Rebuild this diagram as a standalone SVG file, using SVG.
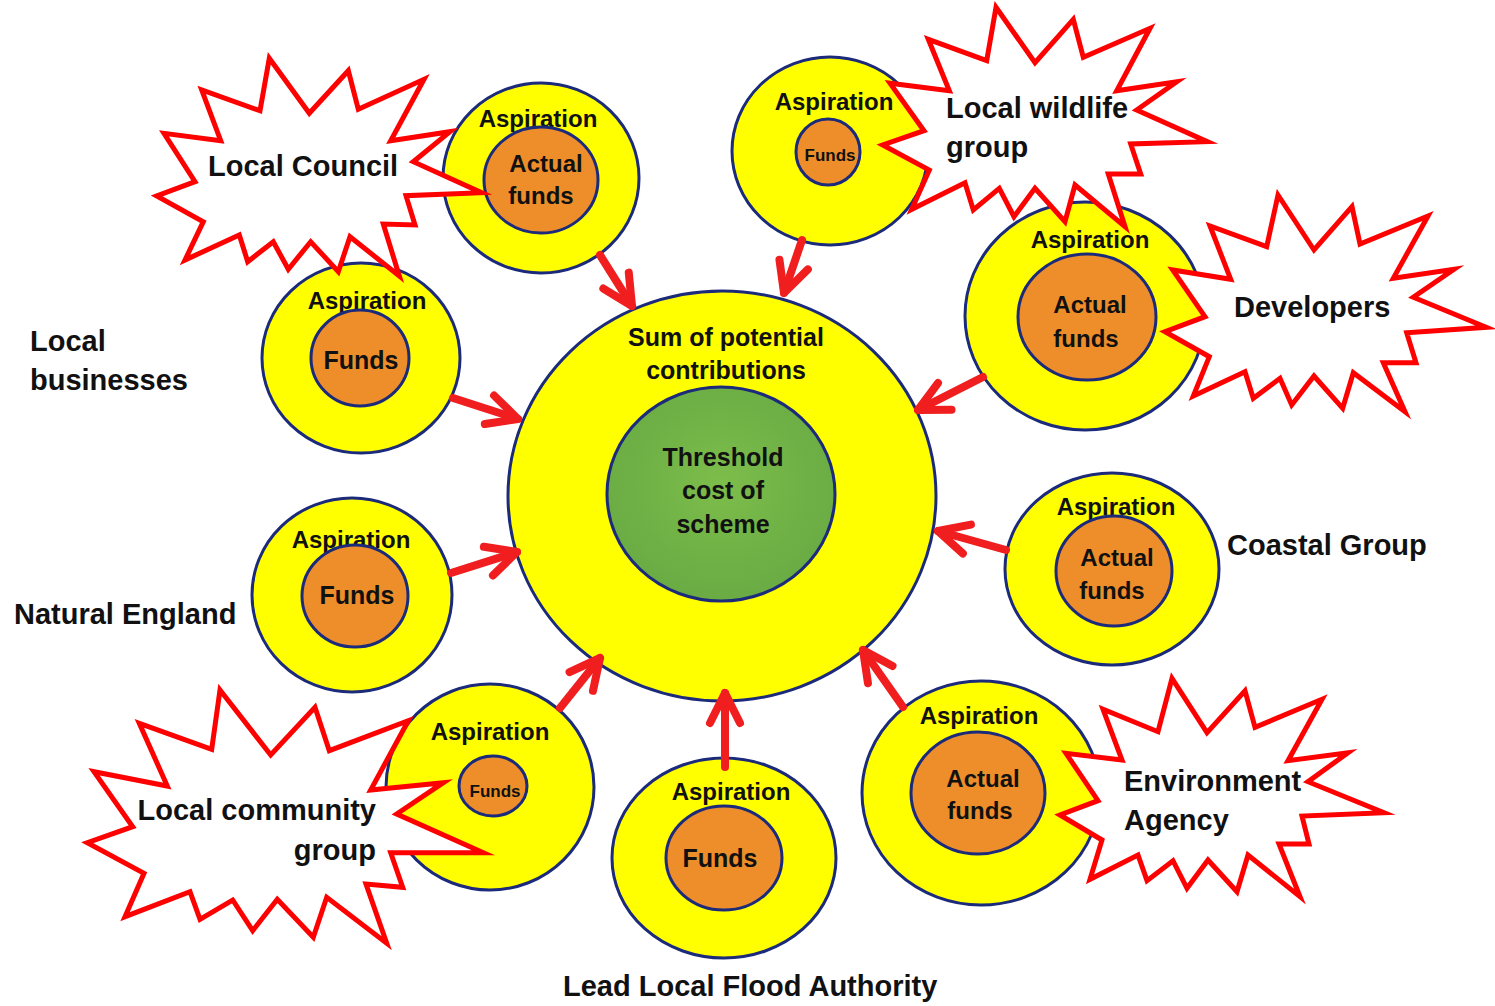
<svg xmlns="http://www.w3.org/2000/svg" width="1495" height="1006" viewBox="0 0 1495 1006">
<style>
text{font-family:"Liberation Sans",Arial,sans-serif;font-weight:bold;fill:#111111}
.outer{fill:#FFFF00;stroke:#1B2A7A;stroke-width:3}
.inner{fill:#EE8E2A;stroke:#1B2A7A;stroke-width:3}
.green{fill:url(#g);stroke:#1B2A7A;stroke-width:3}
.burst{fill:#FFFFFF;stroke:#FF0000;stroke-width:5;stroke-linejoin:miter;stroke-miterlimit:10}
.asp{font-size:24px;text-anchor:middle}
.fund{font-size:24px;text-anchor:middle}
.small{font-size:17px;text-anchor:middle}
.ctr{font-size:25px;text-anchor:middle}
.lbl{font-size:29px}
.arrow{fill:none;stroke:#F01E1E;stroke-width:8;stroke-linecap:round}
</style>
<defs>
<radialGradient id="g" cx="50%" cy="45%" r="60%">
<stop offset="0" stop-color="#7CBD4B"/>
<stop offset="1" stop-color="#68A943"/>
</radialGradient>
<marker id="ah" markerUnits="userSpaceOnUse" orient="auto" markerWidth="80" markerHeight="80" refX="0" refY="0" overflow="visible">
<path d="M-30,-15 L0,0 L-30,15" fill="none" stroke="#F01E1E" stroke-width="8" stroke-linecap="round" stroke-linejoin="round"/>
</marker>
</defs>
<rect width="1495" height="1006" fill="#FFFFFF"/>

<g id="center-node">
<ellipse class="outer" cx="722" cy="496" rx="214" ry="205"/>
<text class="ctr" x="726" y="346">Sum of potential</text>
<text class="ctr" x="726" y="379">contributions</text>
<ellipse class="green" cx="721" cy="494" rx="114" ry="107"/>
<text class="ctr" x="723" y="466">Threshold</text>
<text class="ctr" x="723" y="499">cost of</text>
<text class="ctr" x="723" y="533">scheme</text>
</g>

<g id="node-local-council">
<ellipse class="outer" cx="541" cy="178" rx="98" ry="95"/>
<text class="asp" x="538" y="127">Aspiration</text>
<ellipse class="inner" cx="541" cy="180" rx="57" ry="53"/>
<text class="fund" x="546" y="172">Actual</text>
<text class="fund" x="541" y="204">funds</text>
</g>

<g id="node-local-wildlife">
<ellipse class="outer" cx="830" cy="151" rx="98" ry="94"/>
<text class="asp" x="834" y="110">Aspiration</text>
<ellipse class="inner" cx="828" cy="152" rx="32" ry="33"/>
<text class="small" x="830" y="161">Funds</text>
</g>

<g id="node-developers">
<ellipse class="outer" cx="1085" cy="316" rx="120" ry="114"/>
<text class="asp" x="1090" y="248">Aspiration</text>
<ellipse class="inner" cx="1087" cy="317" rx="69" ry="63"/>
<text class="fund" x="1090" y="313">Actual</text>
<text class="fund" x="1086" y="347">funds</text>
</g>

<g id="node-local-businesses">
<ellipse class="outer" cx="361" cy="358" rx="99" ry="95"/>
<text class="asp" x="367" y="309">Aspiration</text>
<ellipse class="inner" cx="360" cy="358" rx="49" ry="48"/>
<text class="fund" x="361" y="369" style="font-size:25px">Funds</text>
</g>

<g id="node-natural-england">
<ellipse class="outer" cx="352" cy="595" rx="100" ry="97"/>
<text class="asp" x="351" y="548">Aspiration</text>
<ellipse class="inner" cx="355" cy="596" rx="53" ry="51"/>
<text class="fund" x="357" y="604" style="font-size:25px">Funds</text>
</g>

<g id="node-coastal-group">
<ellipse class="outer" cx="1112" cy="569" rx="107" ry="96"/>
<text class="asp" x="1116" y="515">Aspiration</text>
<ellipse class="inner" cx="1114" cy="571" rx="58" ry="55"/>
<text class="fund" x="1117" y="566">Actual</text>
<text class="fund" x="1112" y="599">funds</text>
</g>

<g id="node-local-community">
<ellipse class="outer" cx="490" cy="787" rx="104" ry="103"/>
<text class="asp" x="490" y="740">Aspiration</text>
<ellipse class="inner" cx="493" cy="786" rx="34" ry="30"/>
<text class="small" x="495" y="797">Funds</text>
</g>

<g id="node-llfa">
<ellipse class="outer" cx="724" cy="858" rx="112" ry="100"/>
<text class="asp" x="731" y="800">Aspiration</text>
<ellipse class="inner" cx="724" cy="858" rx="58" ry="52"/>
<text class="fund" x="720" y="867" style="font-size:25px">Funds</text>
</g>

<g id="node-environment-agency">
<ellipse class="outer" cx="981" cy="793" rx="119" ry="112"/>
<text class="asp" x="979" y="724">Aspiration</text>
<ellipse class="inner" cx="978" cy="793" rx="67" ry="61"/>
<text class="fund" x="983" y="787">Actual</text>
<text class="fund" x="980" y="819">funds</text>
</g>

<g id="connectors">
<path class="arrow" marker-end="url(#ah)" d="M600,255 L632,306"/>
<path class="arrow" marker-end="url(#ah)" d="M802,240 L784,293"/>
<path class="arrow" marker-end="url(#ah)" d="M453,398 L518,419"/>
<path class="arrow" marker-end="url(#ah)" d="M983,377 L918,410"/>
<path class="arrow" marker-end="url(#ah)" d="M1006,550 L938,531"/>
<path class="arrow" marker-end="url(#ah)" d="M451,573 L517,552"/>
<path class="arrow" marker-end="url(#ah)" d="M560,708 L600,658"/>
<path class="arrow" marker-end="url(#ah)" d="M725,767 L725,693"/>
<path class="arrow" marker-end="url(#ah)" d="M903,707 L863,650"/>
</g>

<g id="label-local-council">
<polygon class="burst" points="269.3,58.3 309.3,113.3 348.3,70.7 358.3,109.3 424,79.3 390.7,140.7 450,131.7 413.3,161.7 481.7,192.7 406,195.7 415,225 383.3,224 399.3,276 350,236.7 338.3,271.7 310.7,241.7 288.3,269.3 273.3,241.7 247.7,261.7 239.3,235 185,260 203.3,221.7 156.7,196 195,181.7 164,133.3 220.7,140.7 201.7,90 260,110.7"/>
<text class="lbl" x="208" y="176">Local Council</text>
</g>

<g id="label-local-wildlife">
<polygon class="burst" points="996,7.3 1035,62.7 1073.3,19.3 1083.3,57.3 1150,28.3 1116.7,90.7 1176.7,81.7 1136.7,110 1207.3,141.7 1130.7,144 1140.7,174 1108.3,174 1125,226.7 1075,185 1065,221.7 1035,188.3 1014,216.7 999.3,188.3 973.3,210 965,182.7 911.7,209.3 929.3,170 882.7,145 924,130.7 890,83.3 949.3,90.7 928.3,39.3 986.7,60.7"/>
<text class="lbl" x="946" y="118">Local wildlife</text>
<text class="lbl" x="946" y="157">group</text>
</g>

<g id="label-developers">
<polygon class="burst" points="1278,195 1314,250 1352,206.7 1360,244 1428,216 1393.3,278.3 1454,269.3 1413.3,297.3 1486,327.3 1406.7,332.7 1416,362.7 1383.3,362.7 1405,411.7 1353.3,372.7 1342.7,408.3 1314,376 1291.7,405 1280,378.3 1253.3,398.3 1245,371.7 1193.3,396 1209.3,356.7 1165,331.7 1205,316.7 1172.7,270 1230.7,279.3 1210,226 1266.7,246.7"/>
<text class="lbl" x="1234" y="317">Developers</text>
</g>

<g id="label-local-community">
<polygon class="burst" points="220,690 270.7,755 315,707.3 329.3,750.7 408.3,720.7 370.7,790 443.3,782.7 396.7,814 483.3,852.7 390.7,852.7 402.7,887.3 366,884 386.7,943.3 326.7,897.3 313.3,937.3 277.3,899.3 252.7,930.7 232.7,900 200,919.3 190,891.7 125,916.7 144,873.3 87.3,842.7 132.7,826.7 94,771.7 167.3,786 139.3,723.3 211.7,749.3"/>
<text class="lbl" x="376" y="820" text-anchor="end">Local community</text>
<text class="lbl" x="376" y="860" text-anchor="end">group</text>
</g>

<g id="label-environment-agency">
<polygon class="burst" points="1172,678.3 1207,732.7 1245,690.7 1255,727.3 1322,699.3 1288,760.7 1348,752.7 1308,781.7 1384,812.7 1302,816 1309,844 1279,844 1300,896.7 1248,855 1237,891.7 1208,860 1187,888.3 1173,860.7 1147,880.7 1138,855 1090,879.3 1102,840 1060,815 1098,800.7 1066,753.3 1122,760 1103,709.3 1158,731.7"/>
<text class="lbl" x="1124" y="791">Environment</text>
<text class="lbl" x="1124" y="830">Agency</text>
</g>

<g id="label-local-businesses">
<text class="lbl" x="30" y="351">Local</text>
<text class="lbl" x="30" y="390">businesses</text>
</g>
<g id="label-natural-england">
<text class="lbl" x="14" y="624">Natural England</text>
</g>
<g id="label-coastal-group">
<text class="lbl" x="1227" y="555">Coastal Group</text>
</g>
<g id="label-llfa">
<text class="lbl" x="563" y="996">Lead Local Flood Authority</text>
</g>
</svg>
